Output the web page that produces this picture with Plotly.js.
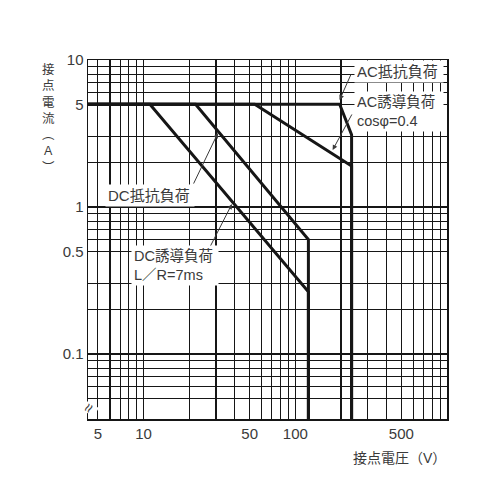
<!DOCTYPE html>
<html><head><meta charset="utf-8">
<script src="https://cdn.plot.ly/plotly-3.0.1.min.js"></script>
<style>html,body{margin:0;padding:0;background:#fff}#chart{width:500px;height:500px}</style>
</head><body><div id="chart"></div>
<script>
// ---- data ----
const xTickVals = [5,6,7,8,9,10,20,30,40,50,60,70,80,90,100,200,300,400,500,600,700,800,900,1000];
const xTickText = ["5","","","","","10","","","","50","","","","","100","","","","500","","","","",""];
const yTickVals = [0.05,0.06,0.07,0.08,0.09,0.1,0.2,0.3,0.5,0.6,0.7,0.8,0.9,1,2,3,5,6,7,8,9,10];
const yTickText = ["","","","","","0.1","","","0.5","","","","","1","","","5","","","","","10"];

const dcIndV = [4.3, 11, 122, 122];
const dcIndA = [5, 5, 0.265, 0.036];
const dcResV = [4.3, 22, 122, 122];
const dcResA = [5, 5, 0.6, 0.036];
const acIndV = [4.3, 54, 235, 235];
const acIndA = [5, 5, 1.9, 0.036];
const acResV = [4.3, 196, 235, 235];
const acResA = [5, 5, 3.1, 0.036];

const xRange = [Math.log10(4.3), 3];
const yRange = [-1.442, 1];

const FONT = "'Liberation Sans', Arial, 'Noto Sans CJK JP', sans-serif";
const TXT = '#3a3a3a';
const INK = '#161616';

function line(x, y, name) {
  return {x: x, y: y, name: name, type: 'scatter', mode: 'lines',
          line: {color: INK, width: 3}, hoverinfo: 'skip', showlegend: false};
}
const traces = [
  line(dcIndV, dcIndA, 'DC誘導負荷'),
  line(dcResV, dcResA, 'DC抵抗負荷'),
  line(acIndV, acIndA, 'AC誘導負荷'),
  line(acResV, acResA, 'AC抵抗負荷')
];

function label(text, x, y, w, size) {
  return {text: text, x: x, y: y, xref: 'x', yref: 'y', xanchor: 'left', yanchor: 'middle',
          showarrow: false, align: 'left', width: w, bgcolor: '#fff', borderpad: 2,
          font: {family: FONT, size: size || 15, color: TXT}};
}
function arrow(x, y, ax, ay) {
  return {text: '', x: x, y: y, xref: 'x', yref: 'y', ax: ax, ay: ay, showarrow: true,
          arrowhead: 2, arrowsize: 1, arrowwidth: 1, arrowcolor: TXT, standoff: 0};
}

const annotations = [
  label('AC抵抗負荷', 2.39, 0.925, 84),
  label('AC誘導負荷<br>cosφ=0.4', 2.39, 0.653, 84, 14.5),
  label('DC抵抗負荷', 0.745, 0.0816, 84),
  label('DC誘導負荷<br>L／R=7ms', 0.915, -0.3946, 82, 14.5),
  arrow(2.292, 0.728, 12, -27),
  arrow(2.2463, 0.388, 20, -37),
  arrow(1.4898, 0.503, -25, 52),
  arrow(1.582, 0.020, -22, 43),
  {text: '接<br>点<br>電<br>流<br>︵<br>A<br>︶', xref: 'paper', yref: 'paper', x: -0.1114, y: 1.0,
   xanchor: 'center', yanchor: 'top', showarrow: false, align: 'center',
   font: {family: FONT, size: 12.5, color: TXT}},
  {text: '接点電圧（V）', xref: 'paper', yref: 'paper', x: 1.003, y: -0.1086, xanchor: 'right', yanchor: 'middle',
   showarrow: false, font: {family: FONT, size: 14, color: TXT}},
  {text: '≈', xref: 'paper', yref: 'paper', x: 0.0, y: 0.03, xanchor: 'center', yanchor: 'middle',
   showarrow: false, textangle: -60, bgcolor: '#fff', borderpad: 0, font: {family: FONT, size: 16, color: TXT}}
];

const axisCommon = {
  type: 'log', tickmode: 'array', showgrid: true, gridcolor: INK, gridwidth: 1.1,
  showline: true, linecolor: INK, linewidth: 1.5, mirror: true, ticks: '', zeroline: false,
  tickfont: {family: FONT, size: 15, color: TXT}
};

const layout = {
  width: 500, height: 500,
  margin: {l: 88, r: 53, t: 60, b: 81},
  paper_bgcolor: '#fff', plot_bgcolor: '#fff',
  xaxis: Object.assign({}, axisCommon, {range: xRange, tickvals: xTickVals, ticktext: xTickText}),
  yaxis: Object.assign({}, axisCommon, {range: yRange, tickvals: yTickVals, ticktext: yTickText}),
  annotations: annotations,
  showlegend: false
};

Plotly.newPlot('chart', traces, layout, {displayModeBar: false, staticPlot: true});
</script></body></html>
